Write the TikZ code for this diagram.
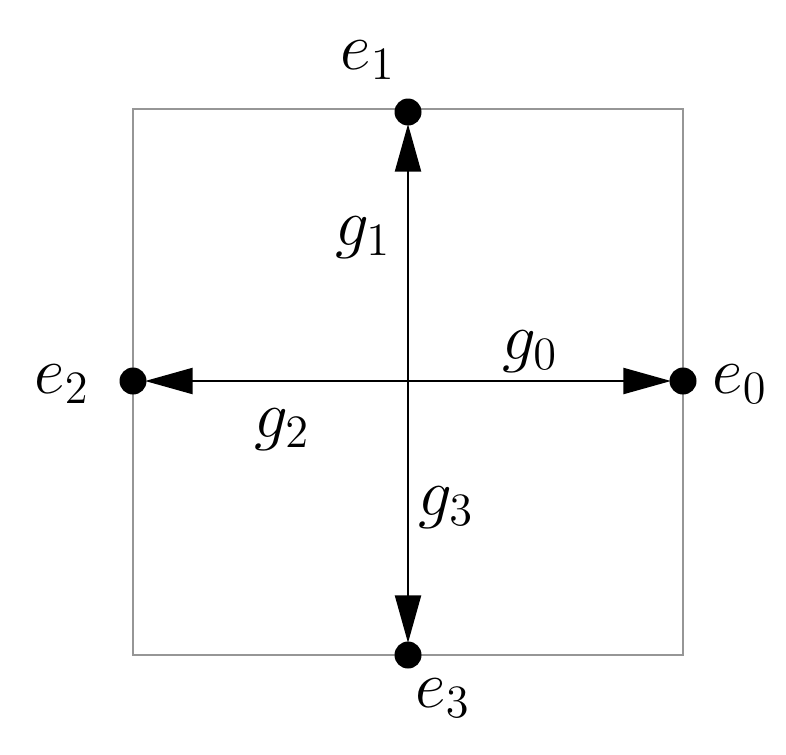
\documentclass[tikz,border=0pt]{standalone}
\usepackage{tikz}
\usetikzlibrary{arrows.meta,positioning}
\definecolor{framegray}{RGB}{150,150,150}

\tikzset{
  dot/.style={circle, fill=black, inner sep=0pt, minimum size=0.54cm},
  gen/.style={-{Triangle[length=0.95cm, width=0.52cm]}, line width=1.2pt, shorten >=-1pt},
  lbl/.style={font=\LARGE, scale=2.2, transform shape}
}

\begin{document}
\begin{tikzpicture}[x=0.02cm, y=-0.02cm]
\useasboundingbox (0,0) rectangle (786,754);
% Frame
\draw[framegray, line width=1.6pt] (133,109) rectangle (683,655);
% Centre and end points
\coordinate (o) at (408,381);
\node[dot] (e0) at (683,381) {};
\node[dot] (e1) at (408,112) {};
\node[dot] (e2) at (133,381) {};
\node[dot] (e3) at (408,655) {};
% Generators
\draw[gen] (o) -- (e0);
\draw[gen] (o) -- (e1);
\draw[gen] (o) -- (e2);
\draw[gen] (o) -- (e3);
% Labels
\node[lbl] (le0) at (740,384) {$e_0$};
\node[lbl] (le1) at (368,60) {$e_1$};
\node[lbl] (le2) at (62,384) {$e_2$};
\node[lbl] (le3) at (443,698) {$e_3$};
\node[lbl] (lg0) at (530,352) {$g_0$};
\node[lbl] (lg1) at (363,238) {$g_1$};
\node[lbl] (lg2) at (282,430) {$g_2$};
\node[lbl] (lg3) at (446,508) {$g_3$};
\end{tikzpicture}
\end{document}
